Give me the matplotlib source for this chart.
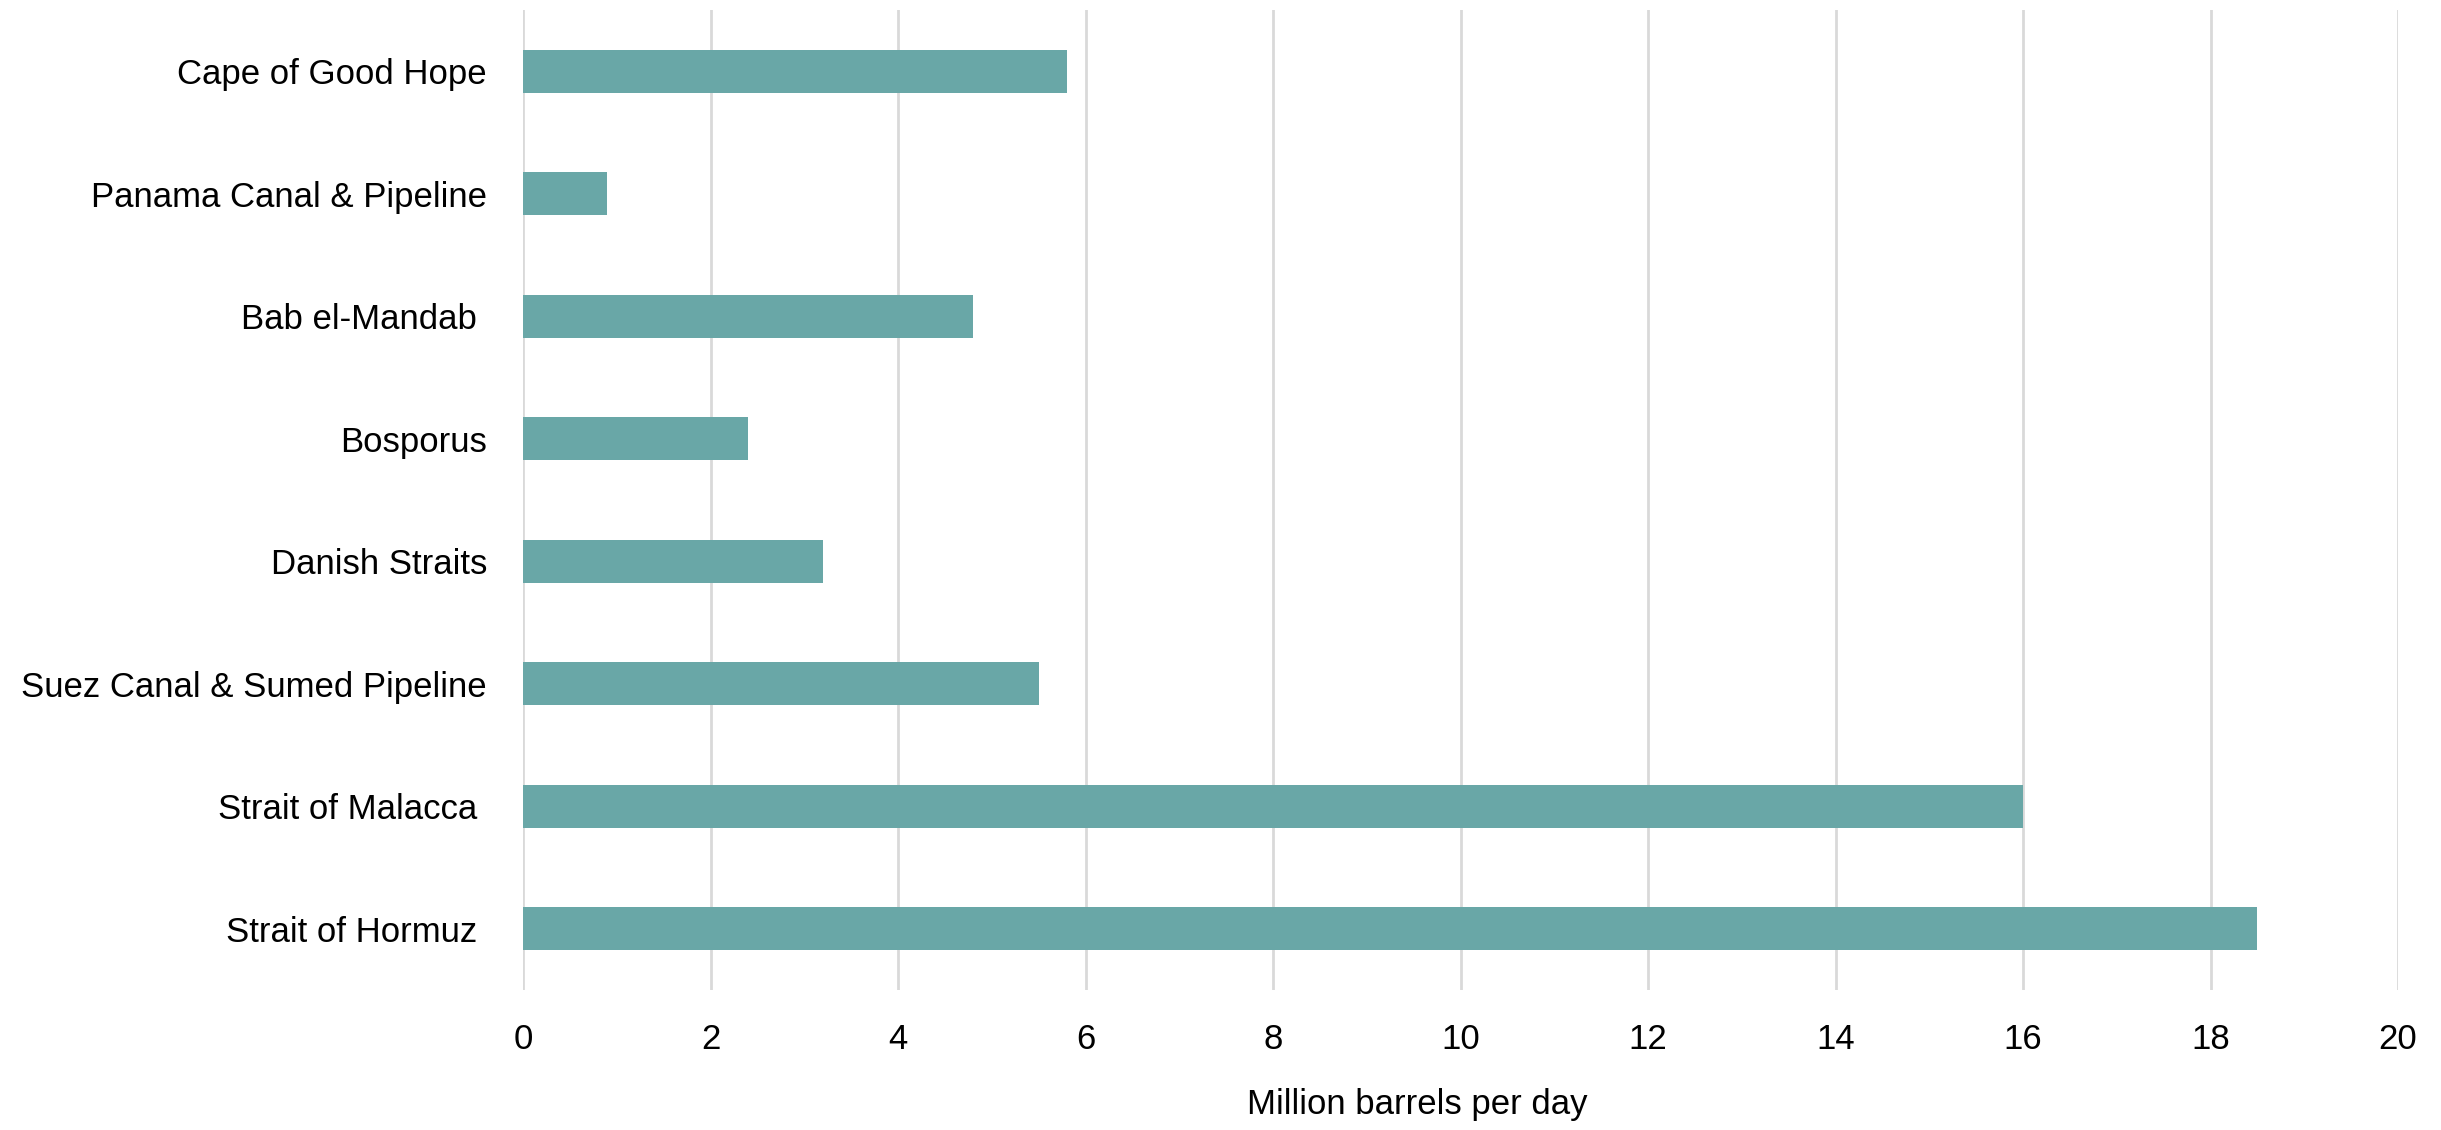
import matplotlib
matplotlib.use("Agg")
import matplotlib.pyplot as plt
from matplotlib import font_manager

# Oil transit volumes through major chokepoints
routes = [
    "Cape of Good Hope",
    "Panama Canal & Pipeline",
    "Bab el-Mandab ",
    "Bosporus",
    "Danish Straits",
    "Suez Canal & Sumed Pipeline",
    "Strait of Malacca ",
    "Strait of Hormuz ",
]
volumes = [5.8, 0.9, 4.8, 2.4, 3.2, 5.5, 16.0, 18.5]
x_ticks = [0, 2, 4, 6, 8, 10, 12, 14, 16, 18, 20]
x_label = "Million barrels per day"

available = {f.name for f in font_manager.fontManager.ttflist}
narrow = "Liberation Sans Narrow" in available
family = ["Liberation Sans Narrow", "Liberation Sans", "DejaVu Sans"]
family = [f for f in family if f in available] or ["DejaVu Sans"]
plt.rcParams["font.family"] = family

BAR_COLOR = "#69a7a7"
GRID_COLOR = "#d9d9d9"
FONT_SIZE = 29 if narrow else 25

fig = plt.figure(figsize=(24.41, 11.30), dpi=100)
ax = fig.add_axes([523 / 2441, 1 - 990 / 1130, 1875 / 2441, 980 / 1130])

positions = list(range(len(routes)))[::-1]
ax.barh(positions, volumes, height=0.35, color=BAR_COLOR, zorder=3)

ax.set_xlim(0, 20)
ax.set_ylim(-0.5, len(routes) - 0.5)
ax.set_xticks(x_ticks)
ax.set_xticklabels([str(t) for t in x_ticks])
ax.set_yticks(positions)
ax.set_yticklabels(routes)

ax.grid(axis="x", color=GRID_COLOR, linewidth=2, zorder=0)
ax.grid(axis="y", visible=False)
for side in ("top", "right", "bottom", "left"):
    ax.spines[side].set_visible(False)

ax.tick_params(axis="y", length=0, pad=26, labelsize=FONT_SIZE)
ax.tick_params(axis="x", length=0, pad=24, labelsize=FONT_SIZE)

ax.set_xlabel(x_label, fontsize=FONT_SIZE)
ax.xaxis.set_label_coords(0.477, -0.100)

fig.savefig("out.png", dpi=100, facecolor="white")
